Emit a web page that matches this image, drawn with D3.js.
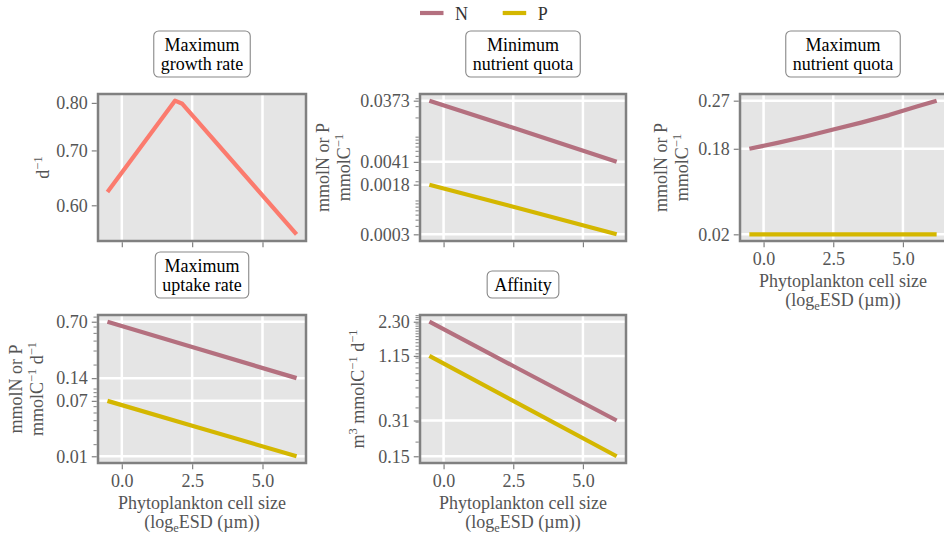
<!DOCTYPE html>
<html>
<head>
<meta charset="utf-8">
<script src="https://cdn.jsdelivr.net/npm/d3@7"></script>
<style>
  body { margin: 0; background: #fff; }
  text { font-family: "Liberation Serif", "Times New Roman", serif; }
</style>
</head>
<body>
<svg id="chart" width="944" height="535"></svg>
<script>
// Cell size on a natural-log ESD axis
const cellSize = [-0.51, 2.5, 6.21];
const growthSize = [-0.51, 1.89, 2.15, 6.21];
const quotaSize = [-0.51, 0.5, 1.5, 2.5, 3.5, 4.5, 5.5, 6.21];
const xTicks = [0, 2.5, 5];

// Trait values
const growthRate = [0.623, 0.805, 0.798, 0.553];
const minQuotaN = [0.0373, 0.0140, 0.0041];
const minQuotaP = [0.0018, 0.00081, 0.0003];
const maxQuotaN = [0.180, 0.191, 0.203, 0.216, 0.229, 0.243, 0.259, 0.270];
const maxQuotaP = [0.02, 0.02, 0.02, 0.02, 0.02, 0.02, 0.02, 0.02];
const uptakeN = [0.70, 0.337, 0.137];
const uptakeP = [0.071, 0.0346, 0.0143];
const affinityN = [2.30, 0.937, 0.31];
const affinityP = [1.15, 0.462, 0.15];

// Tick values
const growthTicks = [0.6, 0.7, 0.8];
const maxQuotaTicks = [0.27, 0.18, 0.02];

const nutrients = ["N", "P"];
const colors = { N: "#b4707f", P: "#d4b700", growth: "#fb7b6e" };

const svg = d3.select("#chart");
const GRAY = "#808080";
const LABEL = "#555555";
const FS = 18;

const cols = [[98, 306], [420, 626], [740, 946]];
const rows = [[94, 241], [315, 463]];

const ends = a => [a[0], a[a.length - 1]];

const panels = [
  {
    col: 0, row: 0, title: ["Maximum", "growth rate"], log: true,
    series: [{ x: growthSize, y: growthRate, color: colors.growth }],
    yTicks: growthTicks, fmt: ".2f", hGrid: false, minor: false, xLabels: false,
    ylab: [[["d"], ["−1", 1]]], ylabX: [48.5]
  },
  {
    col: 1, row: 0, title: ["Minimum", "nutrient quota"], log: true,
    series: [{ x: cellSize, y: minQuotaN, color: colors.N }, { x: cellSize, y: minQuotaP, color: colors.P }],
    yTicks: [...ends(minQuotaN), ...ends(minQuotaP)], fmt: ".4f", hGrid: true, minor: true, xLabels: false,
    ylab: [[["mmolN or P"]], [["mmolC"], ["−1", 1]]], ylabX: [329, 350]
  },
  {
    col: 2, row: 0, title: ["Maximum", "nutrient quota"], log: false,
    series: [{ x: quotaSize, y: maxQuotaN, color: colors.N }, { x: quotaSize, y: maxQuotaP, color: colors.P }],
    yTicks: maxQuotaTicks, fmt: ".2f", hGrid: true, minor: false, xLabels: true,
    ylab: [[["mmolN or P"]], [["mmolC"], ["−1", 1]]], ylabX: [667, 688]
  },
  {
    col: 0, row: 1, title: ["Maximum", "uptake rate"], log: true,
    series: [{ x: cellSize, y: uptakeN, color: colors.N }, { x: cellSize, y: uptakeP, color: colors.P }],
    yTicks: [...ends(uptakeN), ...ends(uptakeP)], fmt: ".2f", hGrid: true, minor: true, xLabels: true,
    ylab: [[["mmolN or P"]], [["mmolC"], ["−1", 1], [" d"], ["−1", 1]]], ylabX: [22, 43]
  },
  {
    col: 1, row: 1, title: ["Affinity"], log: true,
    series: [{ x: cellSize, y: affinityN, color: colors.N }, { x: cellSize, y: affinityP, color: colors.P }],
    yTicks: [...ends(affinityN), ...ends(affinityP)], fmt: ".2f", hGrid: true, minor: true, xLabels: true,
    ylab: [[["m"], ["3", 1], ["  mmolC"], ["−1", 1], [" d"], ["−1", 1]]], ylabX: [364]
  }
];

// Append text made of plain and superscript runs
function runs(textSel, parts) {
  let raised = false;
  parts.forEach(([t, sup]) => {
    const ts = textSel.append("tspan").text(t);
    if (sup && !raised) { ts.attr("dy", -7).attr("font-size", 12.5); raised = true; }
    else if (sup) { ts.attr("font-size", 12.5); }
    else if (raised) { ts.attr("dy", 7); raised = false; }
  });
}

panels.forEach(p => {
  const [x0, x1] = cols[p.col];
  const [y0, y1] = rows[p.row];
  const g = svg.append("g");

  const allY = p.series.flatMap(s => s.y);
  const allX = p.series.flatMap(s => s.x);
  const [xmin, xmax] = d3.extent(allX);
  const xm = (xmax - xmin) * 0.05;
  const x = d3.scaleLinear().domain([xmin - xm, xmax + xm]).range([x0, x1]);

  let y;
  const [ymin, ymax] = d3.extent(allY);
  if (p.log) {
    const lm = (Math.log(ymax) - Math.log(ymin)) * 0.05;
    y = d3.scaleLog().domain([ymin * Math.exp(-lm), ymax * Math.exp(lm)]).range([y1, y0]);
  } else {
    const m = (ymax - ymin) * 0.05;
    y = d3.scaleLinear().domain([ymin - m, ymax + m]).range([y1, y0]);
  }

  // plot background
  g.append("rect").attr("x", x0).attr("y", y0).attr("width", x1 - x0).attr("height", y1 - y0)
    .attr("fill", "#e5e5e5");

  // grid
  g.append("g").selectAll("line").data(xTicks).join("line")
    .attr("x1", d => x(d)).attr("x2", d => x(d)).attr("y1", y0).attr("y2", y1)
    .attr("stroke", "#fff").attr("stroke-width", 2.5);
  if (p.hGrid) {
    g.append("g").selectAll("line").data(p.yTicks).join("line")
      .attr("x1", x0).attr("x2", x1).attr("y1", d => y(d)).attr("y2", d => y(d))
      .attr("stroke", "#fff").attr("stroke-width", 2.5);
  }

  // data lines
  const line = d3.line().x(d => x(d[0])).y(d => y(d[1]));
  p.series.forEach(s => {
    g.append("path").datum(s.x.map((v, i) => [v, s.y[i]]))
      .attr("d", line).attr("fill", "none").attr("stroke", s.color)
      .attr("stroke-width", 4.2).attr("stroke-linejoin", "round");
  });

  // y axis with value ticks
  const yAxis = d3.axisLeft(y).tickValues(p.yTicks).tickFormat(d3.format(p.fmt))
    .tickSize(5).tickPadding(4);
  const ya = g.append("g").attr("transform", `translate(${x0 - 1.25},0)`).call(yAxis);
  ya.select(".domain").remove();
  ya.selectAll("line").attr("stroke", GRAY).attr("stroke-width", 1.2);
  ya.selectAll("text").attr("fill", LABEL).attr("font-size", FS)
    .attr("font-family", '"Liberation Serif", serif');

  if (p.minor) {
    const [d0, d1] = y.domain();
    const minor = y.ticks(30).filter(v => v > d0 && v < d1 &&
      !p.yTicks.some(t => Math.abs(y(t) - y(v)) < 1.5));
    g.append("g").selectAll("line").data(minor).join("line")
      .attr("x1", x0 - 1.25).attr("x2", x0 - 4.5)
      .attr("y1", d => y(d)).attr("y2", d => y(d))
      .attr("stroke", GRAY).attr("stroke-width", 1);
  }

  // x axis
  const xAxis = d3.axisBottom(x).tickValues(xTicks).tickFormat(p.xLabels ? d3.format(".1f") : () => "")
    .tickSize(5).tickPadding(5);
  const xa = g.append("g").attr("transform", `translate(0,${y1 + 1.25})`).call(xAxis);
  xa.select(".domain").remove();
  xa.selectAll("line").attr("stroke", GRAY).attr("stroke-width", 1.2);
  xa.selectAll("text").attr("fill", LABEL).attr("font-size", FS)
    .attr("font-family", '"Liberation Serif", serif');

  // frame
  g.append("rect").attr("x", x0).attr("y", y0).attr("width", x1 - x0).attr("height", y1 - y0)
    .attr("fill", "none").attr("stroke", GRAY).attr("stroke-width", 2.5);

  // x label
  if (p.xLabels) {
    const cx = (x0 + x1) / 2;
    g.append("text").attr("x", cx).attr("y", y1 + 46).attr("text-anchor", "middle")
      .attr("fill", LABEL).attr("font-size", FS).text("Phytoplankton cell size");
    const t2 = g.append("text").attr("x", cx).attr("y", y1 + 64.5).attr("text-anchor", "middle")
      .attr("fill", LABEL).attr("font-size", FS);
    t2.append("tspan").text("(log");
    t2.append("tspan").attr("dy", 4).attr("font-size", 12.5).text("e");
    t2.append("tspan").attr("dy", -4).text("ESD (µm))");
  }

  // y label
  const cy = (y0 + y1) / 2;
  p.ylab.forEach((parts, i) => {
    const t = g.append("text").attr("text-anchor", "middle")
      .attr("transform", `translate(${p.ylabX[i]},${cy}) rotate(-90)`)
      .attr("fill", LABEL).attr("font-size", FS);
    runs(t, parts);
  });

  // title in a rounded box
  const cx = (x0 + x1) / 2;
  const lh = 19;
  const lastBase = y0 - 24.5;
  const tg = g.append("g");
  const tt = tg.append("text").attr("text-anchor", "middle").attr("fill", "#000").attr("font-size", FS);
  p.title.forEach((s, i) => {
    tt.append("tspan").attr("x", cx).attr("y", lastBase - (p.title.length - 1 - i) * lh).text(s);
  });
  const bb = tt.node().getBBox();
  tg.insert("rect", "text")
    .attr("x", bb.x - 7).attr("y", bb.y - 3.5).attr("width", bb.width + 14).attr("height", bb.height + 7)
    .attr("rx", 5).attr("fill", "#fff").attr("stroke", "#888").attr("stroke-width", 1.1);
});

// legend
const legend = svg.append("g");
const legendX = [420, 502.7];
nutrients.forEach((n, i) => {
  legend.append("line").attr("x1", legendX[i]).attr("x2", legendX[i] + 23.5)
    .attr("y1", 13).attr("y2", 13).attr("stroke", colors[n]).attr("stroke-width", 4.2);
  legend.append("text").attr("x", legendX[i] + 35).attr("y", 19.5)
    .attr("fill", "#333").attr("font-size", FS).text(n);
});
</script>
</body>
</html>
